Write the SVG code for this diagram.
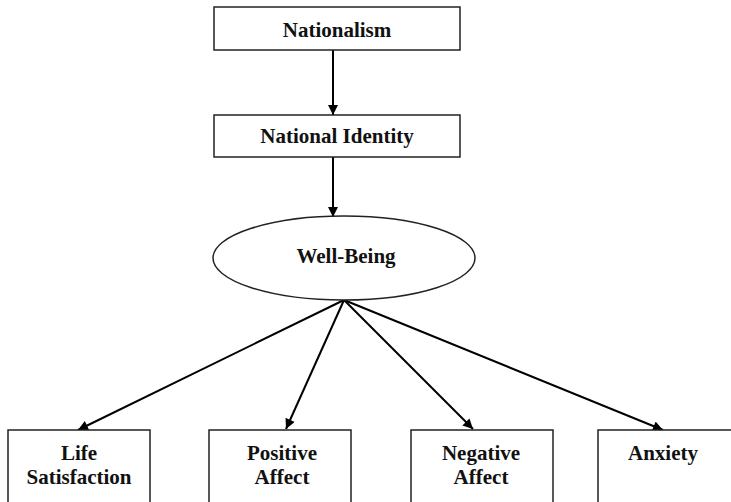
<svg xmlns="http://www.w3.org/2000/svg" width="731" height="502" viewBox="0 0 731 502">
<style>
.box{fill:#fff;stroke:#222;stroke-width:1.5}
.t{font-family:"Liberation Serif","DejaVu Serif",serif;font-weight:bold;font-size:21px;fill:#111;text-anchor:middle}
.c{stroke:#000;stroke-width:2;fill:none;marker-end:url(#ah)}
</style>
<defs>
<marker id="ah" viewBox="0 0 10 10" refX="10" refY="5" markerWidth="5.5" markerHeight="5" orient="auto" markerUnits="strokeWidth">
<path d="M0,0 L10,5 L0,10 z" fill="#000"/>
</marker>
</defs>
<g id="connectors">
<line class="c" x1="333" y1="50" x2="333" y2="115"/>
<line class="c" x1="333" y1="157" x2="333" y2="217"/>
<line class="c" x1="344" y1="300" x2="78" y2="430"/>
<line class="c" x1="344" y1="300" x2="286" y2="429"/>
<line class="c" x1="344" y1="300" x2="473" y2="429"/>
<line class="c" x1="344" y1="300" x2="663" y2="430"/>
</g>
<g id="nationalism">
<rect class="box" x="214" y="7" width="246" height="43"/>
<text class="t" x="337" y="37">Nationalism</text>
</g>
<g id="national-identity">
<rect class="box" x="214" y="115" width="246" height="42"/>
<text class="t" x="337" y="143">National Identity</text>
</g>
<g id="well-being">
<ellipse class="box" cx="344" cy="258" rx="131" ry="42"/>
<text class="t" x="346" y="263">Well-Being</text>
</g>
<g id="life-satisfaction">
<rect class="box" x="8" y="430" width="142" height="80"/>
<text class="t" x="79" y="460">Life</text>
<text class="t" x="79" y="484">Satisfaction</text>
</g>
<g id="positive-affect">
<rect class="box" x="209" y="430" width="142" height="80"/>
<text class="t" x="282" y="460">Positive</text>
<text class="t" x="282" y="484">Affect</text>
</g>
<g id="negative-affect">
<rect class="box" x="411" y="430" width="142" height="80"/>
<text class="t" x="481" y="460">Negative</text>
<text class="t" x="481" y="484">Affect</text>
</g>
<g id="anxiety">
<rect class="box" x="598" y="430" width="142" height="80"/>
<text class="t" x="663" y="460">Anxiety</text>
</g>
</svg>
